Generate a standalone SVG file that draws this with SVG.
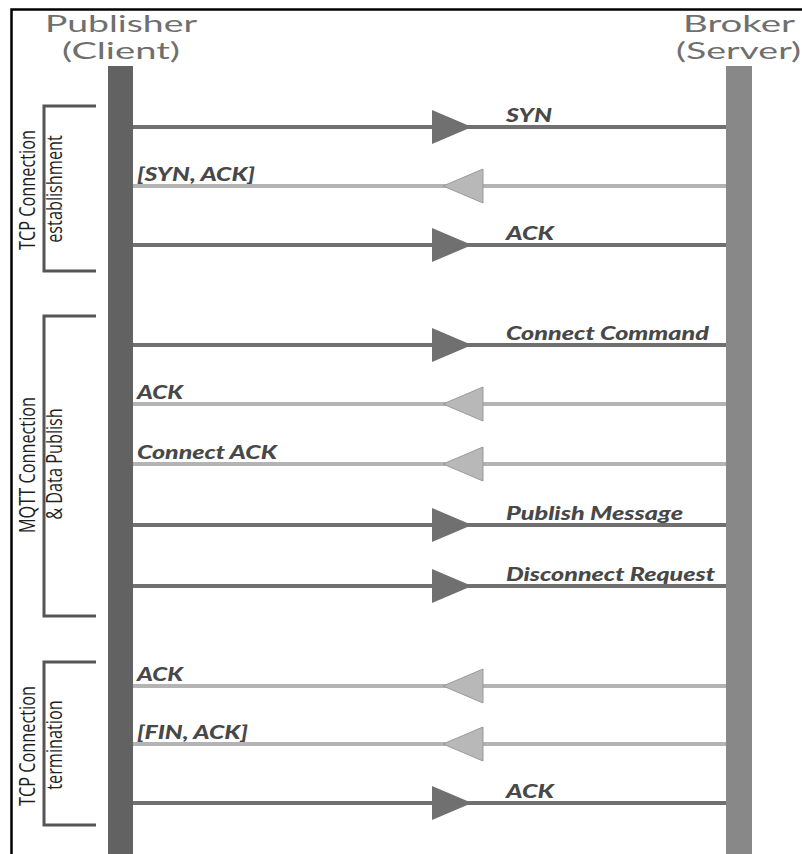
<svg xmlns="http://www.w3.org/2000/svg" width="802" height="854" viewBox="0 0 802 854">
<style>
.hdr{font-family:Lato,"Open Sans",sans-serif;font-size:24px;fill:#6f6f6f;text-anchor:start}
.lbl{font-family:Lato,"Open Sans",sans-serif;font-weight:900;font-style:italic;font-size:18.5px;fill:#484848}
.side{font-family:"Open Sans","Liberation Sans",sans-serif;font-size:22px;fill:#1e1e1e;text-anchor:middle}
.fwd{stroke:#707070;stroke-width:4}
.bwd{stroke:#b4b4b4;stroke-width:4}
.fwdh{fill:#707070}
.bwdh{fill:#b8b8b8;stroke:#9a9a9a;stroke-width:1}
.brk{fill:none;stroke:#555;stroke-width:3}
</style>
<rect width="802" height="854" fill="#fff"/>
<path d="M11.5 854 V9.5 H802" fill="none" stroke="#000" stroke-width="2.5"/>
<g id="publisher">
<text class="hdr" x="45" y="32" textLength="152" lengthAdjust="spacingAndGlyphs">Publisher</text>
<text class="hdr" x="62" y="59" textLength="118" lengthAdjust="spacingAndGlyphs">(Client)</text>
<rect x="108" y="66" width="25" height="788" fill="#626262"/>
</g>
<g id="broker">
<text class="hdr" x="683" y="32" textLength="112" lengthAdjust="spacingAndGlyphs">Broker</text>
<text class="hdr" x="676" y="59" textLength="125" lengthAdjust="spacingAndGlyphs">(Server)</text>
<rect x="726" y="66" width="26" height="788" fill="#888"/>
</g>
<g id="phase-tcp-est">
<path class="brk" d="M96 106 H44 V271 H96"/>
<text class="side" transform="translate(35 190) rotate(-90) scale(0.74 1)">TCP Connection</text>
<text class="side" transform="translate(62 189) rotate(-90) scale(0.74 1)">establishment</text>
</g>
<g id="phase-mqtt">
<path class="brk" d="M96 316 H44 V616 H96"/>
<text class="side" transform="translate(35 465) rotate(-90) scale(0.74 1)">MQTT Connection</text>
<text class="side" transform="translate(62 464) rotate(-90) scale(0.74 1)">&amp; Data Publish</text>
</g>
<g id="phase-tcp-term">
<path class="brk" d="M96 662 H44 V825 H96"/>
<text class="side" transform="translate(35 746) rotate(-90) scale(0.74 1)">TCP Connection</text>
<text class="side" transform="translate(62 745) rotate(-90) scale(0.74 1)">termination</text>
</g>
<g id="connectors">
<line class="fwd" x1="133" y1="127" x2="726" y2="127"/><polygon class="fwdh" points="432,110 472,127 432,144"/>
<line class="bwd" x1="133" y1="186" x2="726" y2="186"/><polygon class="bwdh" points="443,186 483,169 483,203"/>
<line class="fwd" x1="133" y1="245" x2="726" y2="245"/><polygon class="fwdh" points="432,228 472,245 432,262"/>
<line class="fwd" x1="133" y1="345" x2="726" y2="345"/><polygon class="fwdh" points="432,328 472,345 432,362"/>
<line class="bwd" x1="133" y1="404" x2="726" y2="404"/><polygon class="bwdh" points="443,404 483,387 483,421"/>
<line class="bwd" x1="133" y1="464" x2="726" y2="464"/><polygon class="bwdh" points="443,464 483,447 483,481"/>
<line class="fwd" x1="133" y1="525" x2="726" y2="525"/><polygon class="fwdh" points="432,508 472,525 432,542"/>
<line class="fwd" x1="133" y1="586" x2="726" y2="586"/><polygon class="fwdh" points="432,569 472,586 432,603"/>
<line class="bwd" x1="133" y1="686" x2="726" y2="686"/><polygon class="bwdh" points="443,686 483,669 483,703"/>
<line class="bwd" x1="133" y1="744" x2="726" y2="744"/><polygon class="bwdh" points="443,744 483,727 483,761"/>
<line class="fwd" x1="133" y1="803" x2="726" y2="803"/><polygon class="fwdh" points="432,786 472,803 432,820"/>
</g>
<g id="labels">
<text class="lbl" x="506" y="122" textLength="46" lengthAdjust="spacingAndGlyphs">SYN</text>
<text class="lbl" x="137" y="181" textLength="118" lengthAdjust="spacingAndGlyphs">[SYN, ACK]</text>
<text class="lbl" x="506" y="240" textLength="48" lengthAdjust="spacingAndGlyphs">ACK</text>
<text class="lbl" x="506" y="340" textLength="203" lengthAdjust="spacingAndGlyphs">Connect Command</text>
<text class="lbl" x="137" y="399" textLength="46" lengthAdjust="spacingAndGlyphs">ACK</text>
<text class="lbl" x="137" y="459" textLength="140" lengthAdjust="spacingAndGlyphs">Connect ACK</text>
<text class="lbl" x="506" y="520" textLength="177" lengthAdjust="spacingAndGlyphs">Publish Message</text>
<text class="lbl" x="506" y="581" textLength="209" lengthAdjust="spacingAndGlyphs">Disconnect Request</text>
<text class="lbl" x="137" y="681" textLength="46" lengthAdjust="spacingAndGlyphs">ACK</text>
<text class="lbl" x="137" y="739" textLength="111" lengthAdjust="spacingAndGlyphs">[FIN, ACK]</text>
<text class="lbl" x="506" y="798" textLength="48" lengthAdjust="spacingAndGlyphs">ACK</text>
</g>
</svg>
